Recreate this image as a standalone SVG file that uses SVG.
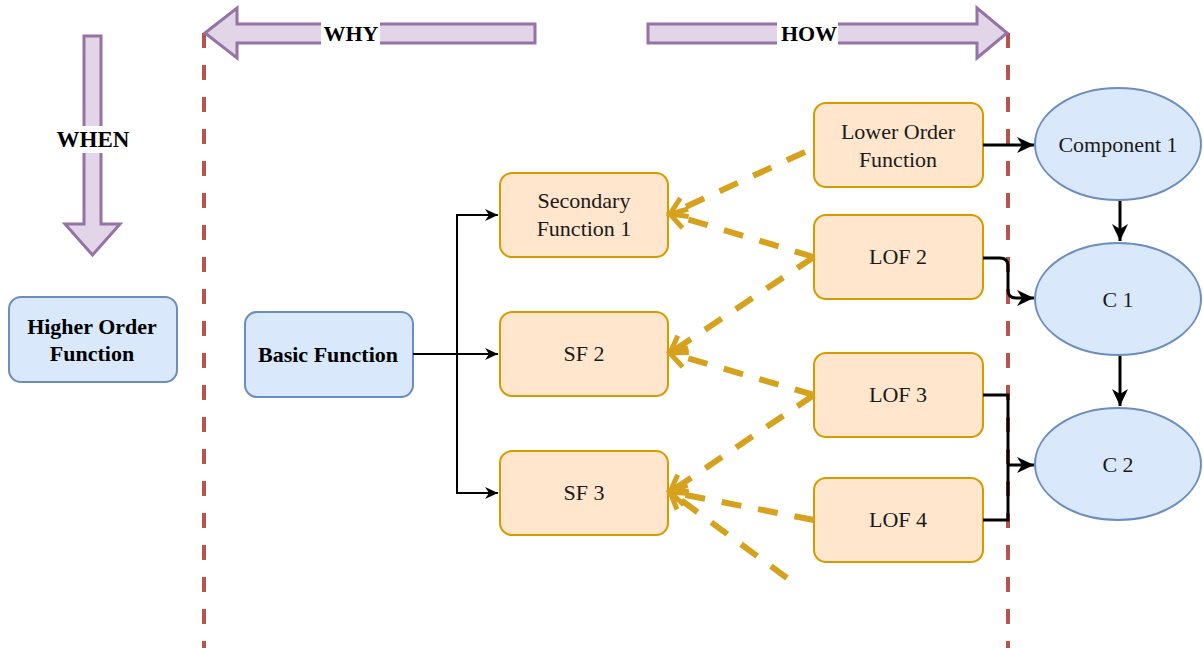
<svg xmlns="http://www.w3.org/2000/svg" width="1203" height="648" viewBox="0 0 1203 648">
  <style>
    .fn { fill: #ffe6cc; stroke: #d79b00; stroke-width: 2; }
    .base { fill: #dae8fc; stroke: #6c8ebf; stroke-width: 2; }
    .comp { fill: #dae8fc; stroke: #6c8ebf; stroke-width: 2; }
    .big { fill: #e1d5e7; stroke: #9673a6; stroke-width: 3; stroke-linejoin: miter; }
    .lbl { font-family: "Liberation Serif", "Times New Roman", serif; font-size: 22px; fill: #1a1a1a; text-anchor: middle; }
    .bold { font-weight: bold; fill: #000; }
    .bound { stroke: #b85450; stroke-width: 4; stroke-dasharray: 15 17; fill: none; }
    .trace { stroke: #d6a21e; stroke-width: 6; stroke-dasharray: 20 17; fill: none; }
    .flow { stroke: #000; stroke-width: 2; fill: none; }
    .flow3 { stroke: #000; stroke-width: 3; fill: none; }
  </style>
  <defs>
    <marker id="arr" markerUnits="userSpaceOnUse" markerWidth="16" markerHeight="16" viewBox="0 0 16 16" refX="14" refY="8" orient="auto">
      <path d="M1,2 L14,8 L1,14 L5,8 Z" fill="#000"/>
    </marker>
    <marker id="arrBig" markerUnits="userSpaceOnUse" markerWidth="20" markerHeight="20" viewBox="0 0 20 20" refX="18" refY="10" orient="auto">
      <path d="M1,2 L18,10 L1,18 L6,10 Z" fill="#000"/>
    </marker>
    <marker id="open" markerUnits="userSpaceOnUse" markerWidth="26" markerHeight="26" viewBox="0 0 26 26" refX="22" refY="13" orient="auto">
      <path d="M6,3 L22,13 L6,23" fill="none" stroke="#d6a21e" stroke-width="5"/>
    </marker>
  </defs>

  <!-- viewpoint boundaries -->
  <g id="boundaries">
    <line class="bound" x1="204" y1="33" x2="204" y2="648"/>
    <line class="bound" x1="1008" y1="33" x2="1008" y2="648"/>
  </g>

  <!-- direction arrows -->
  <g id="why">
    <polygon class="big" points="205,33 237,8 237,24 535,24 535,43 237,43 237,58"/>
    <rect x="321" y="21" width="59" height="25" fill="#fff"/>
    <text class="lbl bold" x="351" y="41">WHY</text>
  </g>
  <g id="how">
    <polygon class="big" points="648,24 977,24 977,8 1007,33 977,58 977,43 648,43"/>
    <rect x="777" y="21" width="61" height="25" fill="#fff"/>
    <text class="lbl bold" x="809" y="41">HOW</text>
  </g>
  <g id="when">
    <polygon class="big" points="84,36 101,36 101,224 120,224 92.5,255 65,224 84,224"/>
    <rect x="53" y="126" width="80" height="27" fill="#fff"/>
    <text class="lbl bold" x="93" y="147" style="font-size:23px">WHEN</text>
  </g>

  <!-- nodes -->
  <g id="higher-order-function">
    <rect class="base" x="9" y="297" width="168" height="85" rx="12"/>
    <text class="lbl bold" x="92" y="334">Higher Order</text>
    <text class="lbl bold" x="92" y="361">Function</text>
  </g>
  <g id="basic-function">
    <rect class="base" x="245" y="312" width="168" height="85" rx="12"/>
    <text class="lbl bold" x="328" y="362">Basic Function</text>
  </g>
  <g id="sf1">
    <rect class="fn" x="500" y="173" width="168" height="84" rx="12"/>
    <text class="lbl" x="584" y="208">Secondary</text>
    <text class="lbl" x="584" y="236">Function 1</text>
  </g>
  <g id="sf2">
    <rect class="fn" x="500" y="312" width="168" height="84" rx="12"/>
    <text class="lbl" x="584" y="361">SF 2</text>
  </g>
  <g id="sf3">
    <rect class="fn" x="500" y="451" width="168" height="84" rx="12"/>
    <text class="lbl" x="584" y="500">SF 3</text>
  </g>
  <g id="lof1">
    <rect class="fn" x="814" y="103" width="169" height="84" rx="12"/>
    <text class="lbl" x="898" y="139">Lower Order</text>
    <text class="lbl" x="898" y="167">Function</text>
  </g>
  <g id="lof2">
    <rect class="fn" x="814" y="215" width="169" height="84" rx="12"/>
    <text class="lbl" x="898" y="264">LOF 2</text>
  </g>
  <g id="lof3">
    <rect class="fn" x="814" y="353" width="169" height="84" rx="12"/>
    <text class="lbl" x="898" y="402">LOF 3</text>
  </g>
  <g id="lof4">
    <rect class="fn" x="814" y="478" width="169" height="84" rx="12"/>
    <text class="lbl" x="898" y="527">LOF 4</text>
  </g>
  <g id="component1">
    <ellipse class="comp" cx="1118" cy="144" rx="83" ry="56"/>
    <text class="lbl" x="1118" y="152">Component 1</text>
  </g>
  <g id="c1">
    <ellipse class="comp" cx="1118" cy="299" rx="83" ry="56"/>
    <text class="lbl" x="1118" y="307">C 1</text>
  </g>
  <g id="c2">
    <ellipse class="comp" cx="1118" cy="464" rx="83" ry="56"/>
    <text class="lbl" x="1118" y="472">C 2</text>
  </g>

  <!-- connectors -->
  <g id="connectors">
    <path class="flow" d="M413,354 H498" marker-end="url(#arr)"/>
    <path class="flow" d="M457,354 V215 H498" marker-end="url(#arr)"/>
    <path class="flow" d="M457,354 V493 H498" marker-end="url(#arr)"/>

    <path class="trace" d="M805,152 L670,214" marker-end="url(#open)"/>
    <path class="trace" d="M814,257 L670,214" marker-end="url(#open)"/>
    <path class="trace" d="M814,257 L670,353" marker-end="url(#open)"/>
    <path class="trace" d="M814,395 L670,353" marker-end="url(#open)"/>
    <path class="trace" d="M814,395 L670,492" marker-end="url(#open)"/>
    <path class="trace" d="M814,520 L670,492" marker-end="url(#open)"/>
    <path class="trace" d="M787,578 L670,492" marker-end="url(#open)"/>

    <path class="flow3" d="M983,145 H1034" marker-end="url(#arrBig)"/>
    <path class="flow3" d="M1120,201 V241" marker-end="url(#arrBig)"/>
    <path class="flow3" d="M1120,356 V406" marker-end="url(#arrBig)"/>
    <path class="flow3" d="M983,258 H1000 Q1008,258 1008,266 V290 Q1008,298 1016,298 H1034" marker-end="url(#arrBig)"/>
    <path class="flow3" d="M983,395 H1008 V520 H983"/>
    <path class="flow3" d="M1008,465 H1034" marker-end="url(#arrBig)"/>
  </g>
</svg>
